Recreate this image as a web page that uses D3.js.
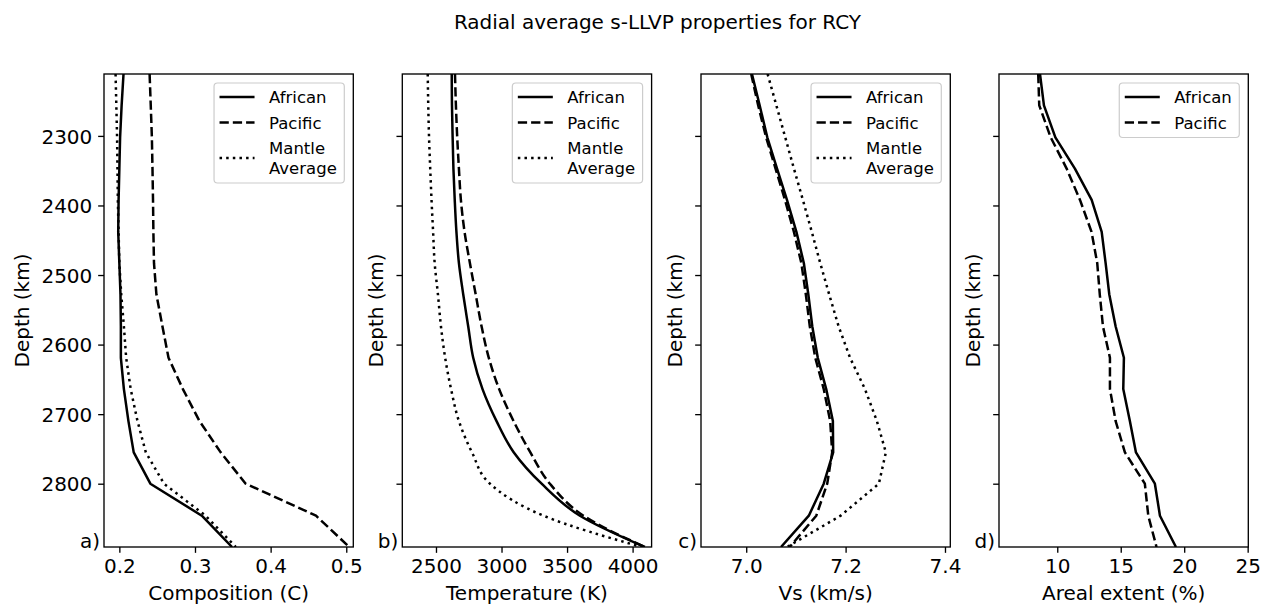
<!DOCTYPE html>
<html>
<head>
<meta charset="utf-8">
<script src="https://cdn.jsdelivr.net/npm/d3@7"></script>
<style>
  html, body { margin: 0; padding: 0; background: #fff; }
  svg { display: block; font-family: "DejaVu Sans", sans-serif; }
</style>
</head>
<body>
<svg id="chart" width="1272" height="606"></svg>
<script>
// ---------------- data ----------------
const title = "Radial average s-LLVP properties for RCY";
const depth = [2211, 2256, 2302, 2347, 2392, 2438, 2483, 2528, 2574, 2619, 2664, 2710, 2755, 2800, 2846, 2891];
const depthTicks = [2300, 2400, 2500, 2600, 2700, 2800];
const depthLim = [2211, 2891];

const compAfrican = [0.2055, 0.203, 0.201, 0.200, 0.199, 0.1985, 0.200, 0.2015, 0.202, 0.202, 0.206, 0.212, 0.219, 0.241, 0.309, 0.349];
const compPacific = [0.240, 0.2415, 0.243, 0.2438, 0.2445, 0.245, 0.2458, 0.249, 0.257, 0.265, 0.284, 0.306, 0.334, 0.367, 0.460, 0.504];
const compMantle  = [0.195, 0.196, 0.197, 0.1975, 0.198, 0.199, 0.200, 0.2025, 0.206, 0.209, 0.215, 0.224, 0.235, 0.259, 0.314, 0.354];
const compTicks = [0.2, 0.3, 0.4, 0.5];

const tempAfrican = [2620, 2622, 2627, 2633, 2643, 2656, 2675, 2708, 2746, 2784, 2855, 2962, 3094, 3306, 3598, 4094];
const tempPacific = [2645, 2652, 2662, 2675, 2690, 2718, 2759, 2803, 2848, 2903, 2982, 3092, 3220, 3369, 3625, 4094];
const tempMantle  = [2437, 2441, 2447, 2456, 2466, 2478, 2490, 2515, 2538, 2570, 2615, 2675, 2775, 2912, 3320, 4070];
const tempTicks = [2500, 3000, 3500, 4000];

const vsAfrican = [7.0115, 7.027, 7.0424, 7.062, 7.082, 7.101, 7.116, 7.125, 7.133, 7.144, 7.161, 7.1744, 7.175, 7.156, 7.126, 7.070];
const vsPacific = [7.010, 7.024, 7.040, 7.059, 7.078, 7.096, 7.111, 7.120, 7.128, 7.139, 7.156, 7.169, 7.173, 7.163, 7.141, 7.0875];
const vsMantle  = [7.043, 7.0606, 7.0785, 7.096, 7.114, 7.132, 7.149, 7.167, 7.186, 7.209, 7.239, 7.263, 7.281, 7.267, 7.190, 7.082];
const vsTicks = [7.0, 7.2, 7.4];

const areaAfrican = [8.64, 8.95, 9.85, 11.39, 12.71, 13.5, 13.81, 14.1, 14.6, 15.25, 15.2, 15.72, 16.2, 17.69, 18.09, 19.35];
const areaPacific = [8.5, 8.58, 9.48, 10.74, 11.79, 12.7, 13.15, 13.35, 13.6, 14.15, 14.15, 14.6, 15.33, 16.9, 17.17, 17.82];
const areaTicks = [10, 15, 20, 25];

const seriesNames = ["African", "Pacific", "Mantle\nAverage"];

// ---------------- layout ----------------
const W = 1272, H = 606;
const axTop = 74, axBottom = 547;
const axLefts = [104, 402.3, 701, 999];
const axWidth = 249.3;
const s = 1.67; // px per pt
const lw = 1.5 * s;
const dashStyles = ["none", `${3.7 * lw},${1.6 * lw}`, `${1 * lw},${1.65 * lw}`];

const panels = [
  { label: "a)", xlabel: "Composition (C)", lim: [0.1797, 0.5093], ticks: compTicks, fmt: d3.format(".1f"),
    series: [compAfrican, compPacific, compMantle], showYLabels: true, curve: d3.curveLinear },
  { label: "b)", xlabel: "Temperature (K)", lim: [2243, 4145], ticks: tempTicks, fmt: d3.format("d"),
    series: [tempAfrican, tempPacific, tempMantle], showYLabels: false, curve: d3.curveMonotoneY },
  { label: "c)", xlabel: "Vs (km/s)", lim: [6.909, 7.4107], ticks: vsTicks, fmt: d3.format(".1f"),
    series: [vsAfrican, vsPacific, vsMantle], showYLabels: false, curve: d3.curveLinear },
  { label: "d)", xlabel: "Areal extent (%)", lim: [5.41, 25.05], ticks: areaTicks, fmt: d3.format("d"),
    series: [areaAfrican, areaPacific], showYLabels: false, curve: d3.curveLinear }
];

const svg = d3.select("#chart");
const tickFont = 20, legendFont = 16.5;
const tickLen = 3.5 * s, tickPad = 3.5 * s;

svg.append("text")
  .attr("x", 657.5).attr("y", 29.3)
  .attr("text-anchor", "middle")
  .attr("font-size", 20)
  .attr("fill", "#000")
  .text(title);

const y = d3.scaleLinear().domain(depthLim).range([axTop, axBottom]);

panels.forEach((p, pi) => {
  const x0 = axLefts[pi];
  const x = d3.scaleLinear().domain(p.lim).range([x0, x0 + axWidth]);
  const g = svg.append("g");

  const clipId = "clip" + pi;
  svg.append("clipPath").attr("id", clipId)
    .append("rect").attr("x", x0).attr("y", axTop).attr("width", axWidth).attr("height", axBottom - axTop);

  // lines
  const line = d3.line()
    .x(d => x(d[1]))
    .y(d => y(d[0]))
    .curve(p.curve);
  p.series.forEach((vals, si) => {
    g.append("path")
      .datum(depth.map((dd, i) => [dd, vals[i]]))
      .attr("d", line)
      .attr("fill", "none")
      .attr("stroke", "#000")
      .attr("stroke-width", lw)
      .attr("stroke-dasharray", dashStyles[si])
      .attr("stroke-linecap", "butt")
      .attr("stroke-linejoin", "round")
      .attr("clip-path", `url(#${clipId})`);
  });

  // x axis
  const xAxis = d3.axisBottom(x).tickValues(p.ticks).tickFormat(p.fmt)
    .tickSizeInner(tickLen).tickSizeOuter(0).tickPadding(tickPad);
  const gx = g.append("g").attr("transform", `translate(0,${axBottom})`).call(xAxis);
  gx.select(".domain").remove();
  gx.selectAll(".tick line").attr("stroke", "#000").attr("stroke-width", 0.8 * s);
  gx.selectAll(".tick text").attr("font-size", tickFont).attr("fill", "#000")
    .attr("font-family", "DejaVu Sans").attr("dy", "0.72em");

  // y axis
  const yAxis = d3.axisLeft(y).tickValues(depthTicks)
    .tickFormat(p.showYLabels ? d3.format("d") : () => "")
    .tickSizeInner(tickLen).tickSizeOuter(0).tickPadding(tickPad);
  const gy = g.append("g").attr("transform", `translate(${x0},0)`).call(yAxis);
  gy.select(".domain").remove();
  gy.selectAll(".tick line").attr("stroke", "#000").attr("stroke-width", 0.8 * s);
  gy.selectAll(".tick text").attr("font-size", tickFont).attr("fill", "#000")
    .attr("font-family", "DejaVu Sans").attr("dy", "0.36em");

  // frame
  g.append("rect")
    .attr("x", x0).attr("y", axTop).attr("width", axWidth).attr("height", axBottom - axTop)
    .attr("fill", "none").attr("stroke", "#000").attr("stroke-width", 0.8 * s);

  // x label
  g.append("text")
    .attr("x", x0 + axWidth / 2).attr("y", 600)
    .attr("text-anchor", "middle").attr("font-size", tickFont).attr("fill", "#000")
    .text(p.xlabel);

  // y label
  const yl = pi === 0 ? x0 - 75 : x0 - 19;
  g.append("text")
    .attr("transform", `translate(${yl},${(axTop + axBottom) / 2}) rotate(-90)`)
    .attr("text-anchor", "middle").attr("font-size", tickFont).attr("fill", "#000")
    .text("Depth (km)");

  // panel label
  g.append("text")
    .attr("x", x0 - 4).attr("y", 548)
    .attr("text-anchor", "end").attr("font-size", tickFont).attr("fill", "#000")
    .text(p.label);

  // legend
  const lg = g.append("g");
  const n = p.series.length;
  const boxTop = axTop + 9;
  const rowH = 25.5;
  const lineGap = 20;
  const frame = lg.append("rect");
  const texts = [];
  let cy = boxTop + 14;
  const rows = [];
  for (let si = 0; si < n; si++) {
    const lines = seriesNames[si].split("\n");
    const hcenter = cy + (lines.length - 1) * lineGap / 2;
    rows.push({ si, lines, top: cy, hcenter });
    cy += (lines.length - 1) * lineGap + rowH;
  }
  const boxBottom = cy - rowH + 15;
  const tg = lg.append("g");
  rows.forEach(r => {
    r.lines.forEach((t, li) => {
      const te = tg.append("text")
        .attr("font-size", legendFont).attr("fill", "#000")
        .attr("y", r.top + li * lineGap + 6)
        .text(t);
      texts.push(te);
    });
  });
  const maxW = d3.max(texts, t => t.node().getComputedTextLength());
  const boxW = 55 + maxW + 7.5;
  const boxRight = x0 + axWidth - 9;
  const boxLeft = boxRight - boxW;
  texts.forEach(t => t.attr("x", boxLeft + 55));
  frame.attr("x", boxLeft).attr("y", boxTop).attr("width", boxW).attr("height", boxBottom - boxTop)
    .attr("rx", 3.5).attr("ry", 3.5)
    .attr("fill", "#fff").attr("fill-opacity", 0.8)
    .attr("stroke", "#cccccc").attr("stroke-width", 1.2);
  rows.forEach(r => {
    lg.append("line")
      .attr("x1", boxLeft + 5.5).attr("x2", boxLeft + 5.5 + 35)
      .attr("y1", r.hcenter).attr("y2", r.hcenter)
      .attr("stroke", "#000").attr("stroke-width", lw)
      .attr("stroke-dasharray", dashStyles[r.si]);
  });
});
</script>
</body>
</html>
